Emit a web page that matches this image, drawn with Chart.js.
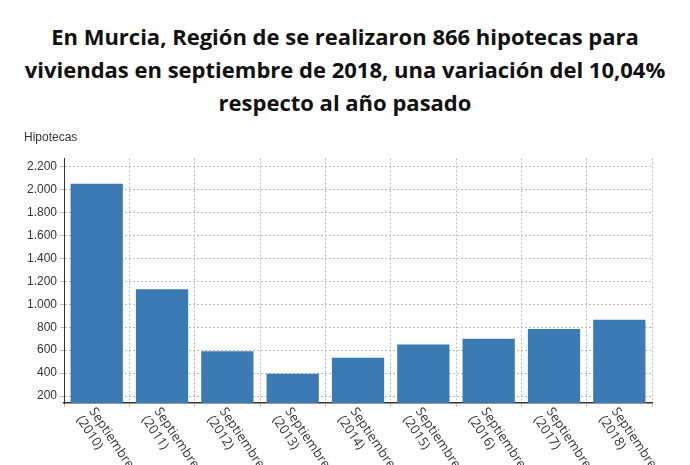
<!DOCTYPE html>
<html lang="es">
<head>
<meta charset="UTF-8">
<script src="https://cdn.jsdelivr.net/npm/chart.js"></script>
<style>
    body { margin: 0; background: #fff; font-family: "Open Sans", sans-serif; }
    .title { text-align: center; font-weight: bold; font-size: 22px; line-height: 33px; color: #111; margin-top: 20px; }
    .wrap { position: absolute; left: 0; top: 122px; width: 680px; height: 343px; }
</style>
</head>
<body>
<div class="title">En Murcia, Región de se realizaron 866 hipotecas para<br>viviendas en septiembre de 2018, una variación del 10,04%<br>respecto al año pasado</div>
<div class="wrap"><canvas id="c"></canvas></div>
<script>
const categories = ['2010', '2011', '2012', '2013', '2014', '2015', '2016', '2017', '2018'];
const hipotecas = [2050, 1130, 590, 395, 535, 650, 700, 785, 866];

// rotated labels going down-right from each tick
const slantLabels = {
    id: 'slantLabels',
    afterDraw(chart) {
        const x = chart.scales.x, c = chart.ctx;
        c.save();
        c.font = '13px "Open Sans"';
        c.fillStyle = '#333';
        categories.forEach((cat, i) => {
            c.save();
            c.translate(x.getPixelForValue(i) - 8, x.bottom + 4);
            c.rotate(Math.PI / 3.2);
            c.fillText('Septiembre', 0, 0);
            c.fillText('(' + cat + ')', 0, 15);
            c.restore();
        });
        c.restore();
    }
};

new Chart(document.getElementById('c'), {
    type: 'bar',
    data: {
        labels: categories,
        datasets: [{ data: hipotecas, backgroundColor: '#3b7ab3', barPercentage: 0.8, categoryPercentage: 1 }]
    },
    options: {
        responsive: true,
        maintainAspectRatio: false,
        animation: false,
        layout: { padding: { left: 24, right: 28, top: 8, bottom: 58 } },
        plugins: {
            legend: { display: false },
            tooltip: { enabled: false },
            title: { display: true, text: 'Hipotecas', align: 'start', color: '#333', font: { size: 12, weight: 'normal' }, padding: { bottom: 14 } }
        },
        scales: {
            x: {
                ticks: { display: false },
                grid: { color: '#bbb', tickLength: 4 },
                border: { dash: [2, 2], color: '#333', width: 1.5 }
            },
            y: {
                min: 140, max: 2270,
                afterBuildTicks(s) { s.ticks = []; for (let v = 200; v <= 2200; v += 200) s.ticks.push({ value: v }); },
                ticks: { color: '#333', font: { size: 12 }, callback: v => v.toLocaleString('de-DE') },
                grid: { color: '#bbb', tickLength: 4 },
                border: { dash: [2, 2], color: '#333' }
            }
        }
    },
    plugins: [slantLabels]
});
</script>
</body>
</html>
